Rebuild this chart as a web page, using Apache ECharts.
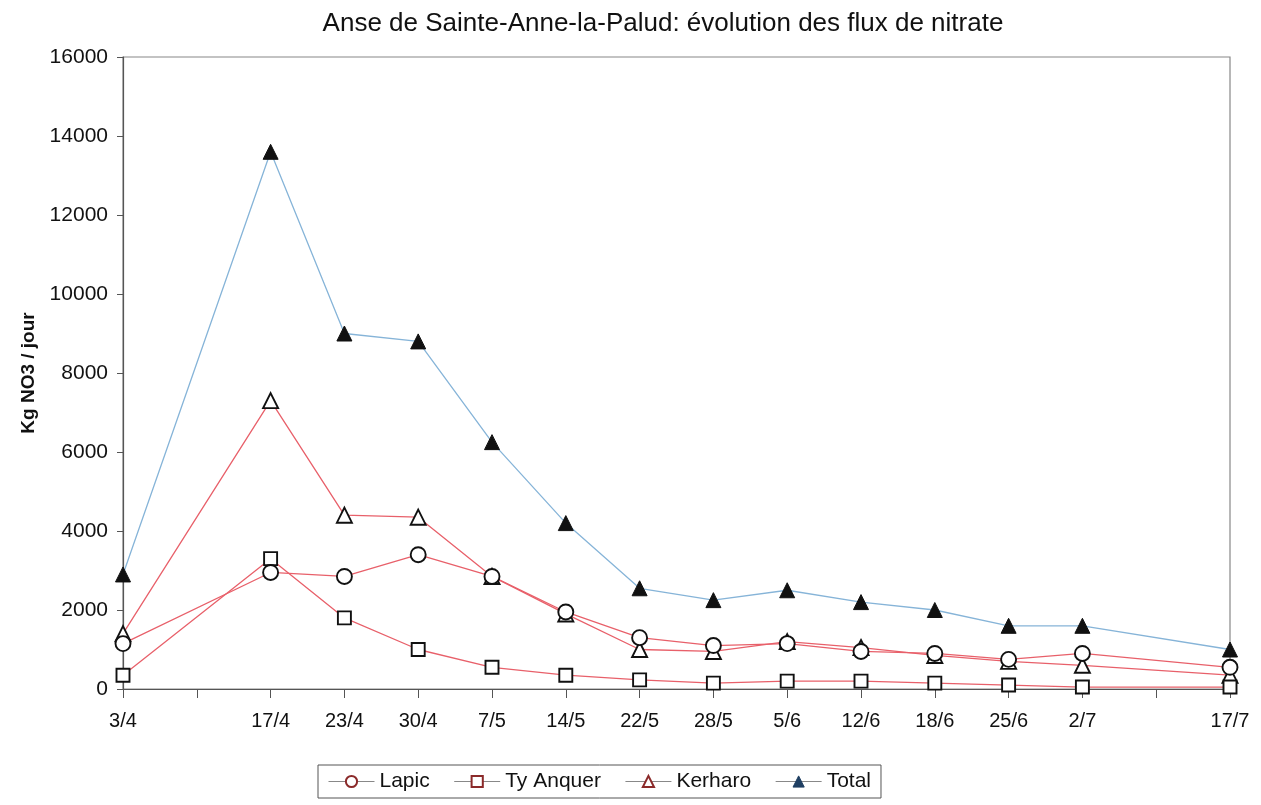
<!DOCTYPE html>
<html>
<head>
<meta charset="utf-8">
<script src="https://cdn.jsdelivr.net/npm/echarts@6/dist/echarts.min.js"></script>
<style>
  html, body { margin: 0; padding: 0; background: #fff; }
  #chart { width: 1261px; height: 805px; }
</style>
</head>
<body>
<div id="chart"></div>
<script>
// Sampling dates; empty slots keep the spacing of the weekly axis
const dates = ['3/4', '', '17/4', '23/4', '30/4', '7/5', '14/5', '22/5', '28/5', '5/6', '12/6', '18/6', '25/6', '2/7', '', '17/7'];

// Daily nitrate flux, kg NO3 / jour (null = no sample on that slot)
const lapic     = [1150, null, 2950, 2850, 3400, 2850, 1950, 1300, 1100, 1150, 950, 900, 750, 900, null, 550];
const tyAnquer  = [350,  null, 3300, 1800, 1000, 550,  350,  230,  150,  200,  200, 150, 100, 50,  null, 50];
const kerharo   = [1400, null, 7300, 4400, 4350, 2850, 1900, 1000, 950,  1200, 1050, 850, 700, 600, null, 350];
const total     = [2900, null, 13600, 9000, 8800, 6250, 4200, 2550, 2250, 2500, 2200, 2000, 1600, 1600, null, 1000];

const yTicks = { min: 0, max: 16000, step: 2000 };

const FONT = '"Liberation Sans", Arial, sans-serif';
const RED = '#e8606a';
const BLUE = '#86b4d8';

function seriesOf(name, data, symbol, lineColor, filled) {
  return {
    name: name,
    type: 'line',
    data: data,
    connectNulls: true,
    symbol: symbol,
    symbolSize: symbol === 'rect' ? 13 : 15,
    showAllSymbol: true,
    lineStyle: { color: lineColor, width: 1.3 },
    itemStyle: {
      color: filled ? '#111' : '#fff',
      borderColor: '#111',
      borderWidth: filled ? 1 : 1.9
    },
    emphasis: { disabled: true },
    z: filled ? 3 : 4
  };
}

const legendLine = { color: '#888', width: 1 };

const chart = echarts.init(document.getElementById('chart'), null, { renderer: 'canvas' });
chart.setOption({
  animation: false,
  backgroundColor: '#fff',
  title: {
    text: 'Anse de Sainte-Anne-la-Palud: évolution des flux de nitrate',
    left: 658,
    textAlign: 'center',
    top: 6,
    textStyle: { fontFamily: FONT, fontSize: 26, fontWeight: 'normal', color: '#111' }
  },
  legend: {
    left: 318,
    top: 765,
    padding: [6, 10, 6, 10],
    borderColor: '#555',
    borderWidth: 1,
    itemGap: 24,
    itemWidth: 46,
    itemHeight: 14,
    textStyle: { fontFamily: FONT, fontSize: 21, color: '#111' },
    data: [
      { name: 'Lapic', itemStyle: { color: '#fff', borderColor: '#8b2a2a', borderWidth: 2 }, lineStyle: legendLine },
      { name: 'Ty Anquer', itemStyle: { color: '#fff', borderColor: '#8b2a2a', borderWidth: 2 }, lineStyle: legendLine },
      { name: 'Kerharo', itemStyle: { color: '#fff', borderColor: '#8b2a2a', borderWidth: 2 }, lineStyle: legendLine },
      { name: 'Total', itemStyle: { color: '#1f3f62', borderColor: '#1f3f62', borderWidth: 1 }, lineStyle: legendLine }
    ]
  },
  grid: {
    left: 123,
    right: 31,
    top: 57,
    bottom: 116,
    show: true,
    borderColor: '#888',
    borderWidth: 1.2
  },
  xAxis: {
    type: 'category',
    data: dates,
    boundaryGap: false,
    axisLine: { lineStyle: { color: '#555', width: 1.2 } },
    axisTick: { show: true, interval: 0, length: 9, lineStyle: { color: '#555' } },
    axisLabel: { interval: 0, margin: 22, fontFamily: FONT, fontSize: 20, color: '#111' },
    splitLine: { show: false }
  },
  yAxis: {
    type: 'value',
    min: yTicks.min,
    max: yTicks.max,
    interval: yTicks.step,
    name: 'Kg NO3 / jour',
    nameLocation: 'middle',
    nameGap: 85,
    nameRotate: 90,
    nameTextStyle: { fontFamily: FONT, fontSize: 19, fontWeight: 'bold', color: '#111' },
    axisLine: { show: true, lineStyle: { color: '#555', width: 1.2 } },
    axisTick: { show: true, length: 6, lineStyle: { color: '#555' } },
    axisLabel: {
      margin: 15, fontFamily: FONT, fontSize: 21, color: '#111',
      formatter: function (v) { return String(v); }
    },
    splitLine: { show: false }
  },
  series: [
    seriesOf('Total', total, 'triangle', BLUE, true),
    seriesOf('Kerharo', kerharo, 'triangle', RED, false),
    seriesOf('Ty Anquer', tyAnquer, 'rect', RED, false),
    seriesOf('Lapic', lapic, 'circle', RED, false)
  ]
});
</script>
</body>
</html>
